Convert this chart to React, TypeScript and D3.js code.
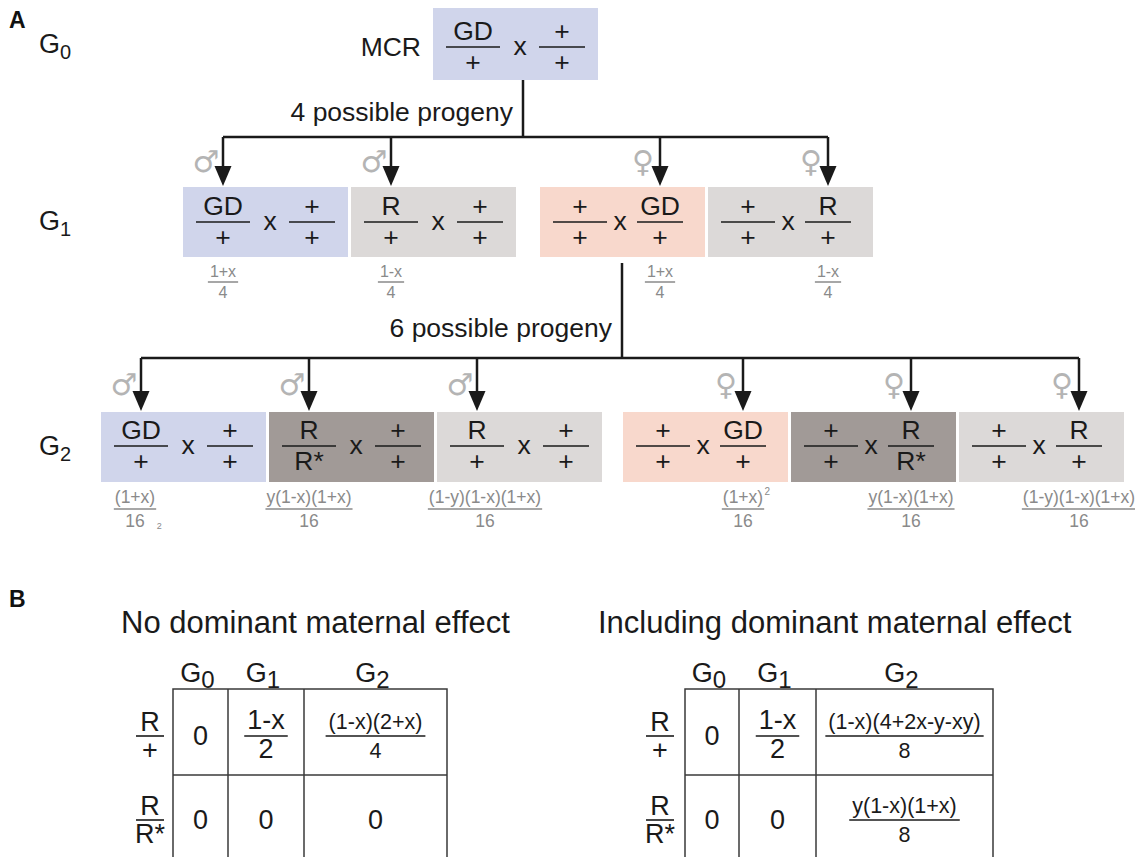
import React, { useEffect, useRef } from 'react';
import * as d3 from 'd3';

const W = 1135;
const H = 857;
const FONT = '"Liberation Sans", Arial, Helvetica, sans-serif';

// panel A - crosses per generation
const g0Label = 'MCR';
const g0Cross = ['GD/+', '+/+'];

const g1Sexes = ['male', 'male', 'female', 'female'];
const g1Crosses = [['GD/+', '+/+'], ['R/+', '+/+'], ['+/+', 'GD/+'], ['+/+', 'R/+']];
const g1ProbNum = ['1+x', '1-x', '1+x', '1-x'];
const g1ProbDen = ['4', '4', '4', '4'];

const g2Sexes = ['male', 'male', 'male', 'female', 'female', 'female'];
const g2Crosses = [['GD/+', '+/+'], ['R/R*', '+/+'], ['R/+', '+/+'], ['+/+', 'GD/+'], ['+/+', 'R/R*'], ['+/+', 'R/+']];
const g2ProbNum = ['(1+x)', 'y(1-x)(1+x)', '(1-y)(1-x)(1+x)', '(1+x)', 'y(1-x)(1+x)', '(1-y)(1-x)(1+x)'];
const g2ProbPow = ['2', '', '', '2', '', ''];
const g2ProbDen = ['16', '16', '16', '16', '16', '16'];

const progenyLabels = ['4 possible progeny', '6 possible progeny'];
const generations = ['0', '1', '2'];

// panel B - tables
const tableTitles = ['No dominant maternal effect', 'Including dominant maternal effect'];
const tableRowLabels = ['R/+', 'R/R*'];
const tableNoMaternal = [['0', '1-x/2', '(1-x)(2+x)/4'], ['0', '0', '0']];
const tableWithMaternal = [['0', '1-x/2', '(1-x)(4+2x-y-xy)/8'], ['0', '0', 'y(1-x)(1+x)/8']];

const boxColors: Record<string, string> = {
    gdM: '#d0d5eb',
    gdF: '#f8d8cc',
    r: '#dcd9d8',
    rr: '#a19a97'
};

function crossClass(cross: string[], sex: string) {
    const carrier = sex === 'male' ? cross[0] : cross[1];
    if (carrier.startsWith('GD')) return sex === 'male' ? 'gdM' : 'gdF';
    if (carrier === 'R/R*') return 'rr';
    return 'r';
}

export default function App() {
    const ref = useRef<SVGSVGElement>(null);

    useEffect(() => {
        const svg = d3.select(ref.current);
        svg.selectAll('*').remove();
        const root = svg.append('g').attr('font-family', FONT);

        const txt = (g: any, x: number, y: number, s: string, size: number, fill = '#1a1a1a', anchor = 'middle') =>
            g.append('text').attr('x', x).attr('y', y).attr('font-size', size)
                .attr('fill', fill).attr('text-anchor', anchor).text(s);

        // genotype fraction inside a box
        const geno = (g: any, cx: number, lineY: number, s: string, w: number) => {
            const [num, den] = s.split('/');
            g.append('line').attr('x1', cx - w / 2).attr('x2', cx + w / 2)
                .attr('y1', lineY).attr('y2', lineY).attr('stroke', '#1a1a1a').attr('stroke-width', 1.7);
            txt(g, cx, lineY - 7, num, 26.5);
            txt(g, cx, lineY + 24, den, 26.5);
        };

        const drawCross = (g: any, x: number, y: number, h: number, lineOff: number, cross: string[], sex: string) => {
            g.append('rect').attr('x', x).attr('y', y).attr('width', 165).attr('height', h)
                .attr('fill', boxColors[crossClass(cross, sex)]);
            const lineY = y + lineOff;
            const off = sex === 'male' ? [40, 87, 129] : [40, 80, 120];
            geno(g, x + off[0], lineY, cross[0], 54);
            txt(g, x + off[1], lineY + 8, 'x', 26.5);
            geno(g, x + off[2], lineY, cross[1], 46);
            return sex === 'male' ? x + off[0] : x + off[2];
        };

        const arrow = (g: any, x: number, y1: number, tipY: number) => {
            g.append('line').attr('x1', x).attr('x2', x).attr('y1', y1).attr('y2', tipY - 12)
                .attr('stroke', '#1a1a1a').attr('stroke-width', 2.5);
            g.append('path')
                .attr('d', d3.line()([[x - 8.5, tipY - 20], [x + 8.5, tipY - 20], [x, tipY]]) + 'Z')
                .attr('fill', '#1a1a1a');
        };

        const sexSymbol = (g: any, x: number, y: number, sex: string) => {
            g.append('text').attr('x', x).attr('y', y).attr('font-family', '"DejaVu Sans", sans-serif')
                .attr('font-size', 30).attr('fill', '#b4b4b4').attr('text-anchor', 'middle')
                .text(sex === 'male' ? '\u2642' : '\u2640');
        };

        const genLabel = (g: any, x: number, y: number, sub: string, size: number, subSize: number, anchor = 'start') => {
            const t = g.append('text').attr('x', x).attr('y', y).attr('font-size', size)
                .attr('fill', '#1a1a1a').attr('text-anchor', anchor);
            t.append('tspan').text('G');
            t.append('tspan').attr('font-size', subSize).attr('dy', 6).text(sub);
        };

        // panel letters
        txt(root, 9, 28, 'A', 23, '#111', 'start').attr('font-weight', 'bold');
        txt(root, 9, 607, 'B', 23, '#111', 'start').attr('font-weight', 'bold');

        // generation labels
        const genY = [53, 230, 455];
        generations.forEach((s, i) => genLabel(root, 39, genY[i], s, 27, 20));

        // G0
        const g0 = { x: 433, y: 8, h: 72 };
        txt(root, 421, 56, g0Label, 26.5, '#1a1a1a', 'end');
        const g0Stem = g0.x + 90;
        drawCross(root, g0.x, g0.y, g0.h, 39, g0Cross, 'male');

        // G1 row
        const g1 = { top: 187, h: 70, lineOff: 35, branchY: 137 };
        const g1Pos = d3.scaleLinear().domain([0, 1]).range([183, 183 + 168]);
        const g1X = (i: number) => g1Pos(i) + (i >= 2 ? 21 : 0);
        const g1Arrows = g1Crosses.map((c, i) => drawCross(root, g1X(i), g1.top, g1.h, g1.lineOff, c, g1Sexes[i]));

        root.append('line').attr('x1', g0Stem).attr('x2', g0Stem).attr('y1', g0.y + g0.h).attr('y2', g1.branchY)
            .attr('stroke', '#1a1a1a').attr('stroke-width', 2.5);
        root.append('path')
            .attr('d', d3.line()([[d3.min(g1Arrows)!, g1.branchY], [d3.max(g1Arrows)!, g1.branchY]]))
            .attr('stroke', '#1a1a1a').attr('stroke-width', 2.5).attr('fill', 'none');
        txt(root, g0Stem - 10, 121, progenyLabels[0], 26.5, '#1a1a1a', 'end');

        g1Arrows.forEach((ax, i) => {
            arrow(root, ax, g1.branchY, g1.top - 1);
            sexSymbol(root, ax - 17, 172, g1Sexes[i]);
            const nt = txt(root, ax, 277, g1ProbNum[i], 16, '#8a8a8a');
            const w = nt.node().getComputedTextLength() + 4;
            root.append('line').attr('x1', ax - w / 2).attr('x2', ax + w / 2).attr('y1', 282).attr('y2', 282)
                .attr('stroke', '#8a8a8a').attr('stroke-width', 1.5);
            txt(root, ax, 298, g1ProbDen[i], 16, '#8a8a8a');
        });

        // G2 row
        const g2 = { top: 412, h: 70, lineOff: 34, branchY: 358 };
        const g2Pos = d3.scaleLinear().domain([0, 1]).range([101, 101 + 168]);
        const g2X = (i: number) => g2Pos(i) + (i >= 3 ? 18 : 0);
        const g2Arrows = g2Crosses.map((c, i) => drawCross(root, g2X(i), g2.top, g2.h, g2.lineOff, c, g2Sexes[i]));

        const g2Stem = g1X(2) + 82;
        root.append('line').attr('x1', g2Stem).attr('x2', g2Stem).attr('y1', g1.top + g1.h + 6).attr('y2', g2.branchY)
            .attr('stroke', '#1a1a1a').attr('stroke-width', 2.5);
        root.append('path')
            .attr('d', d3.line()([[d3.min(g2Arrows)!, g2.branchY], [d3.max(g2Arrows)!, g2.branchY]]))
            .attr('stroke', '#1a1a1a').attr('stroke-width', 2.5).attr('fill', 'none');
        txt(root, g2Stem - 10, 337, progenyLabels[1], 26.5, '#1a1a1a', 'end');

        g2Arrows.forEach((ax, i) => {
            arrow(root, ax, g2.branchY, g2.top - 1);
            sexSymbol(root, ax - 17, 395, g2Sexes[i]);
            const cx = i === 0 ? ax - 6 : i === 2 ? ax + 8 : ax;
            const nt = txt(root, cx, 503, g2ProbNum[i], 17.5, '#8a8a8a');
            const w = nt.node().getComputedTextLength() + 2;
            root.append('line').attr('x1', cx - w / 2).attr('x2', cx + w / 2).attr('y1', 509).attr('y2', 509)
                .attr('stroke', '#8a8a8a').attr('stroke-width', 1.5);
            txt(root, cx, 527, g2ProbDen[i], 17.5, '#8a8a8a');
            if (g2ProbPow[i]) {
                // first exponent is misplaced below the fraction in the original figure
                if (i < 3) txt(root, cx + w / 2 + 3, 529, g2ProbPow[i], 9, '#8a8a8a');
                else txt(root, cx + w / 2 + 3, 495, g2ProbPow[i], 10, '#8a8a8a');
            }
        });

        // panel B tables
        const tables = [
            { cells: tableNoMaternal, cols: [173, 228, 304, 447], labelX: 150, titleX: 121 },
            { cells: tableWithMaternal, cols: [685, 739, 816, 993], labelX: 660, titleX: 598 }
        ];
        const tTop = 689, tMid = 775;
        const rowLine = [736, 820];

        tables.forEach((t, ti) => {
            const g = root.append('g');
            txt(g, t.titleX, 633, tableTitles[ti], 31, '#1a1a1a', 'start');
            const colC = d3.range(3).map(c => (t.cols[c] + t.cols[c + 1]) / 2);
            generations.forEach((s, c) => genLabel(g, colC[c] - 3, 682, s, 27, 24, 'middle'));

            g.append('path')
                .attr('d', d3.line()([[t.cols[0], H], [t.cols[0], tTop], [t.cols[3], tTop], [t.cols[3], H]]))
                .attr('fill', 'none').attr('stroke', '#3a3a3a').attr('stroke-width', 1.5);
            [1, 2].forEach(c => g.append('line').attr('x1', t.cols[c]).attr('x2', t.cols[c])
                .attr('y1', tTop).attr('y2', H).attr('stroke', '#3a3a3a').attr('stroke-width', 1.5));
            g.append('line').attr('x1', t.cols[0]).attr('x2', t.cols[3]).attr('y1', tMid).attr('y2', tMid)
                .attr('stroke', '#3a3a3a').attr('stroke-width', 1.5);

            tableRowLabels.forEach((lab, r) => {
                const [num, den] = lab.split('/');
                const ly = rowLine[r];
                g.append('line').attr('x1', t.labelX - 14).attr('x2', t.labelX + 14).attr('y1', ly).attr('y2', ly)
                    .attr('stroke', '#1a1a1a').attr('stroke-width', 1.6);
                txt(g, t.labelX, ly - 5, num, 27);
                txt(g, t.labelX, ly + 23, den, 27);

                t.cells[r].forEach((cell, c) => {
                    const cx = colC[c];
                    const parts = cell.split('/');
                    if (parts.length === 1) {
                        txt(g, cx, ly + 9, cell, 27);
                    } else {
                        const size = c === 2 ? 21.5 : 27;
                        const nt = txt(g, cx, ly - 7, parts[0], size);
                        const w = nt.node().getComputedTextLength() + 6;
                        g.append('line').attr('x1', cx - w / 2).attr('x2', cx + w / 2).attr('y1', ly).attr('y2', ly)
                            .attr('stroke', '#1a1a1a').attr('stroke-width', 1.6);
                        txt(g, cx, ly + 22, parts[1], size);
                    }
                });
            });
        });
    }, []);

    return (
        <svg ref={ref} width={W} height={H}
            style={{ position: 'absolute', left: 0, top: 0, background: '#fff' }} />
    );
}
